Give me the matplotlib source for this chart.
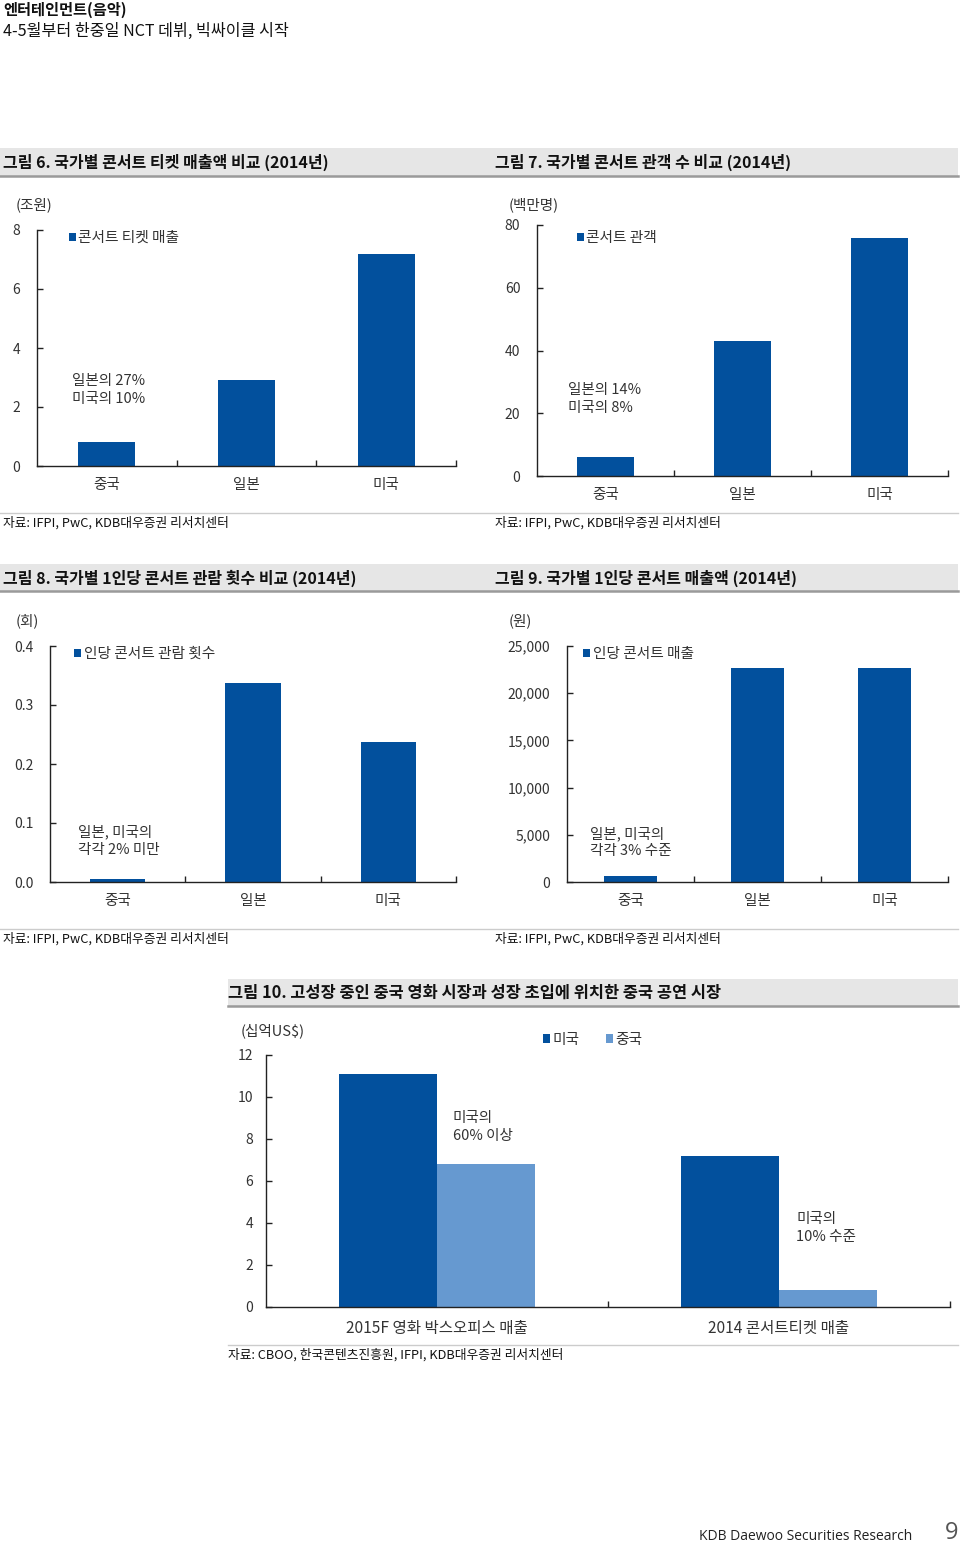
import matplotlib
matplotlib.use("Agg")
import matplotlib.pyplot as plt
from matplotlib.patches import Rectangle
from matplotlib.ticker import FuncFormatter
import numpy as np

plt.rcParams["font.family"] = ["Noto Sans CJK KR", "DejaVu Sans"]

# ---- data ----
countries = ["중국", "일본", "미국"]
ticket_sales = [0.8, 2.9, 7.2]            # 조원
audience = [6.0, 43.0, 76.0]              # 백만명
per_capita_count = [0.005, 0.337, 0.237]  # 회
per_capita_sales = [650, 22700, 22700]    # 원

market_cats = ["2015F 영화 박스오피스 매출", "2014 콘서트티켓 매출"]
market_us = [11.1, 7.2]                   # 십억US$
market_cn = [6.8, 0.8]

DARK = "#02509D"
LIGHT = "#6699D0"
TXT = "#333333"

W, H = 960, 1543
fig = plt.figure(figsize=(W / 100, H / 100), dpi=100)


def px_axes(left, top, right, bottom):
    return fig.add_axes([left / W, 1 - bottom / H, (right - left) / W, (bottom - top) / H])


def ftext(x, y, s, **kw):
    kw.setdefault("va", "center")
    kw.setdefault("color", TXT)
    fig.text(x / W, 1 - y / H, s, **kw)


def band(x0, x1, y0, y1):
    fig.patches.append(Rectangle((x0 / W, 1 - y1 / H), (x1 - x0) / W, (y1 - y0) / H,
                                 transform=fig.transFigure, fc="#E6E6E6", ec="none"))
    fig.add_artist(plt.Line2D([x0 / W, x1 / W], [1 - y1 / H, 1 - y1 / H],
                              transform=fig.transFigure, color="#9A9A9A", lw=1.8))


def hline(x0, x1, y):
    fig.add_artist(plt.Line2D([x0 / W, x1 / W], [1 - y / H, 1 - y / H],
                              transform=fig.transFigure, color="#CCCCCC", lw=1.0))


def style(ax, ncat, ymax, step, fmt, ypad=9, xsize=10.5):
    for s in ["top", "right"]:
        ax.spines[s].set_visible(False)
    for s in ["left", "bottom"]:
        ax.spines[s].set_color("#222222")
        ax.spines[s].set_linewidth(1.0)
    ax.set_xlim(-0.5, ncat - 0.5)
    ax.set_ylim(0, ymax)
    ax.set_yticks(np.arange(0, ymax + step / 2, step))
    ax.yaxis.set_major_formatter(FuncFormatter(fmt))
    ax.set_xticks(range(ncat))
    ax.set_xticks(np.arange(0.5, ncat, 1.0), minor=True)
    ax.tick_params(axis="y", direction="in", length=4, width=1.0, pad=ypad,
                   labelsize=10, labelcolor=TXT, color="#222222")
    ax.tick_params(axis="x", which="major", length=0, pad=9, labelsize=xsize, labelcolor=TXT)
    ax.tick_params(axis="x", which="minor", direction="in", length=4, width=1.0, color="#222222")
    ax.patch.set_alpha(0)


def add_legend(ax, x, y, **kw):
    ax.legend(loc="center left", bbox_to_anchor=(x, y), frameon=False, fontsize=10.6,
              handlelength=0.5, handleheight=0.5, handletextpad=0.15,
              borderpad=0, borderaxespad=0, labelcolor=TXT, **kw)


def note(ax, x, y, s):
    ax.text(x, y, s, transform=ax.transAxes, va="center", fontsize=10.5,
            color=TXT, linespacing=1.3)


# ---- page header / footer ----
ftext(3, 10, "엔터테인먼트(음악)", fontsize=11, fontweight="bold", color="#111111")
ftext(3, 31, "4-5월부터 한중일 NCT 데뷔, 빅싸이클 시작", fontsize=11.6, color="#111111")
ftext(912, 1536, "KDB Daewoo Securities Research", fontsize=10, ha="right",
      family=["Open Sans", "DejaVu Sans"], color="#222222")
ftext(952, 1533, "9", fontsize=17, ha="center", family=["Open Sans", "DejaVu Sans"], color="#555555")

# ---- section bands ----
band(0, 958, 148, 176)
band(0, 958, 564, 591)
band(228, 958, 979, 1006)
ftext(3, 162, "그림 6. 국가별 콘서트 티켓 매출액 비교 (2014년)", fontsize=11.5, fontweight="bold", color="#111111")
ftext(495, 162, "그림 7. 국가별 콘서트 관객 수 비교 (2014년)", fontsize=11.5, fontweight="bold", color="#111111")
ftext(3, 578, "그림 8. 국가별 1인당 콘서트 관람 횟수 비교 (2014년)", fontsize=11.5, fontweight="bold", color="#111111")
ftext(495, 578, "그림 9. 국가별 1인당 콘서트 매출액 (2014년)", fontsize=11.5, fontweight="bold", color="#111111")
ftext(228, 993, "그림 10. 고성장 중인 중국 영화 시장과 성장 초입에 위치한 중국 공연 시장", fontsize=11.8,
      fontweight="bold", color="#111111")

src = "자료: IFPI, PwC, KDB대우증권 리서치센터"
hline(0, 958, 513)
hline(0, 958, 929)
hline(228, 958, 1345)
ftext(3, 523, src, fontsize=9.2, color="#111111")
ftext(495, 523, src, fontsize=9.2, color="#111111")
ftext(3, 939, src, fontsize=9.2, color="#111111")
ftext(495, 939, src, fontsize=9.2, color="#111111")
ftext(228, 1355, "자료: CBOO, 한국콘텐츠진흥원, IFPI, KDB대우증권 리서치센터", fontsize=9.2, color="#111111")

# ---- chart 6 ----
ax1 = px_axes(37, 230, 456, 466)
x = np.arange(len(countries))
ax1.bar(x, ticket_sales, width=0.41, color=DARK, label="콘서트 티켓 매출")
style(ax1, 3, 8, 2, lambda v, p: f"{v:.0f}", ypad=12)
ax1.set_xticklabels(countries)
add_legend(ax1, 0.076, 0.966)
note(ax1, 0.083, 0.322, "일본의 27%\n미국의 10%")
ftext(16, 205, "(조원)", fontsize=10.5)

# ---- chart 7 ----
ax2 = px_axes(537, 225, 948, 476)
ax2.bar(x, audience, width=0.41, color=DARK, label="콘서트 관객")
style(ax2, 3, 80, 20, lambda v, p: f"{v:.0f}", ypad=12)
ax2.set_xticklabels(countries)
add_legend(ax2, 0.097, 0.948)
note(ax2, 0.075, 0.307, "일본의 14%\n미국의 8%")
ftext(509, 205, "(백만명)", fontsize=10.5)

# ---- chart 8 ----
ax3 = px_axes(50, 646, 456, 882)
ax3.bar(x, per_capita_count, width=0.41, color=DARK, label="인당 콘서트 관람 횟수")
style(ax3, 3, 0.4, 0.1, lambda v, p: f"{v:.1f}", ypad=12)
ax3.set_xticklabels(countries)
add_legend(ax3, 0.059, 0.966)
note(ax3, 0.069, 0.174, "일본, 미국의\n각각 2% 미만")
ftext(16, 621, "(회)", fontsize=10.5)

# ---- chart 9 ----
ax4 = px_axes(567, 646, 948, 882)
ax4.bar(x, per_capita_sales, width=0.41, color=DARK, label="인당 콘서트 매출")
style(ax4, 3, 25000, 5000, lambda v, p: f"{v:,.0f}", ypad=12)
ax4.set_xticklabels(countries)
add_legend(ax4, 0.042, 0.966)
note(ax4, 0.060, 0.169, "일본, 미국의\n각각 3% 수준")
ftext(509, 621, "(원)", fontsize=10.5)

# ---- chart 10 ----
ax5 = px_axes(266, 1055, 950, 1307)
xm = np.arange(len(market_cats))
bw = 0.287
ax5.bar(xm - bw / 2, market_us, width=bw, color=DARK, label="미국")
ax5.bar(xm + bw / 2, market_cn, width=bw, color=LIGHT, label="중국")
style(ax5, 2, 12, 2, lambda v, p: f"{v:.0f}", ypad=9, xsize=11.2)
ax5.set_xticklabels(market_cats)
add_legend(ax5, 0.405, 1.06, ncol=2, columnspacing=1.8)
note(ax5, 0.273, 0.714, "미국의\n60% 이상")
note(ax5, 0.775, 0.313, "미국의\n10% 수준")
ftext(241, 1031, "(십억US$)", fontsize=10.5)

fig.savefig("out.png", dpi=100)
